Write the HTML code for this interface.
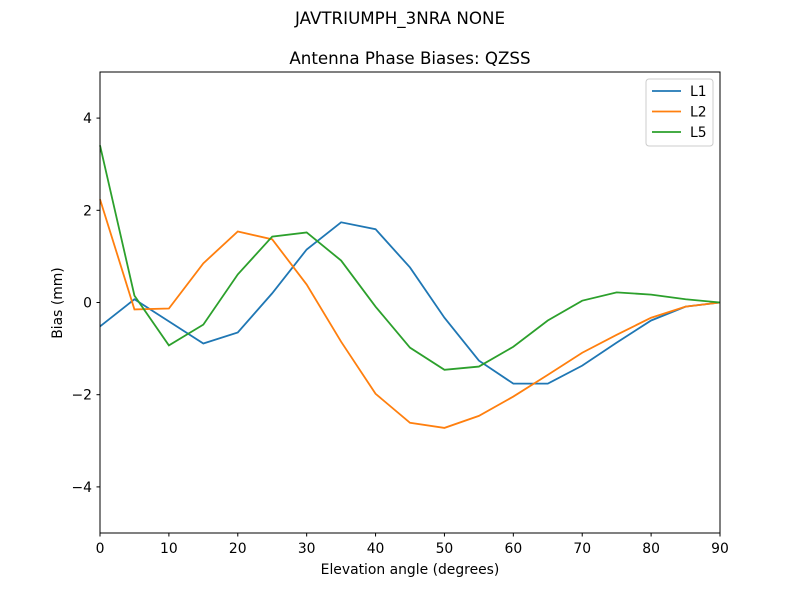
<!DOCTYPE html>
<html><head><meta charset="utf-8"><style>
body{margin:0;background:#fff;}
svg{display:block;font-family:"DejaVu Sans","Liberation Sans",sans-serif;}
</style></head><body>
<svg id="chart" width="800" height="600" viewBox="0 0 800 600">
<rect width="800" height="600" fill="#fff"/>
<text x="400" y="24" text-anchor="middle" font-size="16.7">JAVTRIUMPH_3NRA NONE</text>
<text x="410" y="64" text-anchor="middle" font-size="16.7">Antenna Phase Biases: QZSS</text>
<g id="ticks"></g>
<g id="series"></g>
<rect x="100" y="72" width="620" height="461" fill="none" stroke="#000" stroke-width="1"/>
<text x="410" y="574" text-anchor="middle" font-size="13.9">Elevation angle (degrees)</text>
<text x="62" y="303" text-anchor="middle" font-size="13.9" transform="rotate(-90 62 303)">Bias (mm)</text>
<g id="legend">
<rect x="646" y="79" width="67" height="67" rx="3" fill="#fff" stroke="#ccc"/>
</g>
</svg>
<script>
const elevations=[0,5,10,15,20,25,30,35,40,45,50,55,60,65,70,75,80,85,90];
const l1Values=[-0.52,0.07,-0.41,-0.89,-0.65,0.2,1.15,1.74,1.59,0.76,-0.33,-1.26,-1.76,-1.76,-1.37,-0.87,-0.39,-0.09,0];
const l2Values=[2.24,-0.15,-0.13,0.85,1.54,1.37,0.39,-0.85,-1.98,-2.61,-2.72,-2.46,-2.04,-1.57,-1.09,-0.7,-0.33,-0.09,0];
const l5Values=[3.41,0.15,-0.93,-0.48,0.61,1.43,1.52,0.91,-0.09,-0.98,-1.46,-1.39,-0.96,-0.39,0.04,0.22,0.17,0.07,0];
const seriesNames=["L1","L2","L5"];
const xTicks=[0,10,20,30,40,50,60,70,80,90];
const yTicks=[-4,-2,0,2,4];
const yTickLabels=["\u22124","\u22122","0","2","4"];
const colors=["#1f77b4","#ff7f0e","#2ca02c"];
const NS="http://www.w3.org/2000/svg";
function xs(v){return 100+v/90*620;}
function ys(v){return 302.5-v*46.1;}
function mk(tag,attrs,parent){const e=document.createElementNS(NS,tag);for(const k in attrs)e.setAttribute(k,attrs[k]);parent.appendChild(e);return e;}
const tg=document.getElementById('ticks');
xTicks.forEach(t=>{
  const l=mk('line',{x1:xs(t),x2:xs(t),y1:533,y2:536.5,stroke:'#000'},tg);
  
  
  const tx=mk('text',{x:xs(t),y:553,'text-anchor':'middle','font-size':13.9},tg);
  tx.textContent=t;
  
  
});
yTicks.forEach((t,i)=>{
  const l=mk('line',{x1:96.5,x2:100,y1:ys(t),y2:ys(t),stroke:'#000'},tg);
  
  
  const tx=mk('text',{x:92,y:ys(t)+5,'text-anchor':'end','font-size':13.9},tg);
  tx.textContent=yTickLabels[i];
  
  
});
const sg=document.getElementById('series');
[l1Values,l2Values,l5Values].forEach((vals,i)=>{
  const pts=vals.map((v,j)=>xs(elevations[j]).toFixed(2)+','+ys(v).toFixed(2)).join(' ');
  const p=mk('polyline',{points:pts,fill:'none',stroke:colors[i],'stroke-width':1.8},sg);
  
  
});
const lg=document.getElementById('legend');
seriesNames.forEach((n,i)=>{
  const y=91+i*20.5;
  const l=mk('line',{x1:652,x2:681,y1:y,y2:y,stroke:colors[i],'stroke-width':1.8},lg);
  
  
  const t=mk('text',{x:690,y:y+5,'font-size':13.9},lg);
  t.textContent=n;
  
  
});
</script>
</body></html>
